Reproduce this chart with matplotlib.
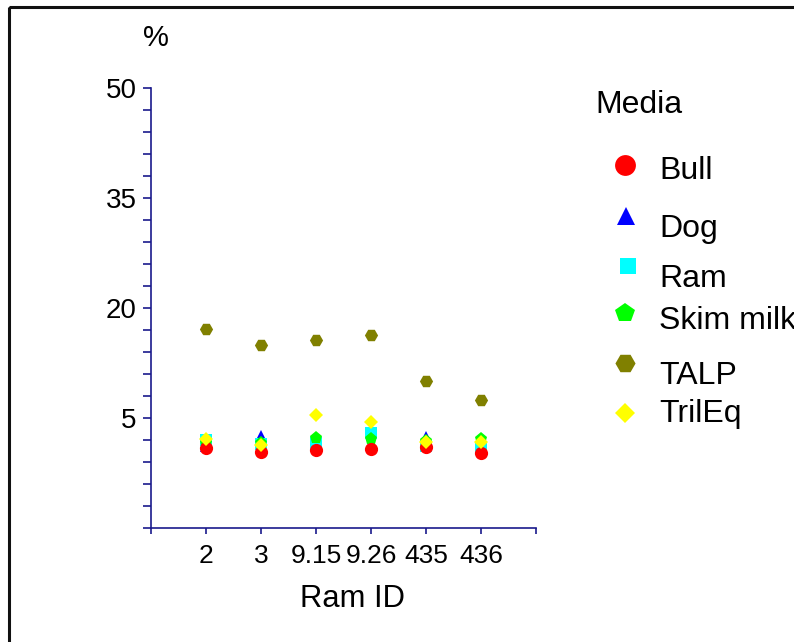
import matplotlib
matplotlib.use('Agg')
import matplotlib.pyplot as plt
from matplotlib.patches import Rectangle
import numpy as np

plt.rcParams['font.family'] = ['Liberation Sans', 'DejaVu Sans']

# Data
ram_ids = ['2', '3', '9.15', '9.26', '435', '436']
media = ['Bull', 'Dog', 'Ram', 'Skim milk', 'TALP', 'TrilEq']
bull = [0.86, 0.4, 0.64, 0.73, 1.0, 0.18]
dog = [1.2, 2.55, 1.6, 1.5, 2.36, 1.3]
ram = [2.0, 1.5, 1.55, 2.9, 1.18, 1.0]
skim_milk = [1.55, 1.63, 2.23, 2.1, 1.8, 2.1]
talp = [17.2, 14.95, 15.7, 16.3, 10.1, 7.45]
trileq = [2.14, 1.32, 5.45, 4.5, 1.77, 1.77]

values = [bull, dog, ram, skim_milk, talp, trileq]
colors = ['#ff0000', '#0000ff', '#00ffff', '#00ff00', '#808000', '#ffff00']
markers = ['o', '^', 's', 'p', 'H', 'D']
plot_ms = [9.5, 9, 9, 9.5, 9.5, 6.8]
legend_ms = [15, 13.5, 11.5, 15, 14.5, 10.2]
zorders = [5, 3, 3, 4, 3, 6]

axis_color = '#1a1a8c'

fig = plt.figure(figsize=(7.94, 6.42), dpi=100)
ax = fig.add_axes([151 / 794, 1 - 528 / 642, 385 / 794, 440 / 642])

x = np.arange(1, len(ram_ids) + 1)
for vals, c, m, ms, z in zip(values, colors, markers, plot_ms, zorders):
    ax.plot(x, vals, linestyle='none', marker=m, color=c, markersize=ms,
            markeredgewidth=0, zorder=z, clip_on=False)

ax.set_xlim(0, len(ram_ids) + 1)
ax.set_ylim(-10, 50)
ax.set_xticks(np.arange(0, len(ram_ids) + 2))
ax.set_xticklabels([''] + ram_ids + [''])
ax.set_yticks([5, 20, 35, 50])
ax.set_yticks(np.arange(-10, 51, 3), minor=True)

for s in ['top', 'right']:
    ax.spines[s].set_visible(False)
for s in ['left', 'bottom']:
    ax.spines[s].set_color(axis_color)
    ax.spines[s].set_linewidth(1.2)

ax.tick_params(axis='both', which='both', direction='out', color=axis_color,
               width=1.2)
ax.tick_params(axis='y', which='major', length=5.5, pad=5, labelsize=20)
ax.tick_params(axis='y', which='minor', length=5.5)
ax.tick_params(axis='x', which='major', length=4.5, pad=7, labelsize=19)

# Axis titles
fig.text(353 / 794, 1 - 607 / 642, 'Ram ID', fontsize=22.3, ha='center', va='baseline')
fig.text(156 / 794, 1 - 38 / 642, '%', fontsize=21, ha='center', va='center')

# Legend drawn in pixel coordinates
leg = fig.add_axes([0, 0, 1, 1], facecolor='none')
leg.set_xlim(0, 794)
leg.set_ylim(642, 0)
leg.axis('off')

leg.text(595, 113, 'Media', fontsize=23, va='baseline')
marker_y = [164.5, 215.5, 265.5, 313, 363, 412.5]
marker_x = [624.5, 626, 628, 625, 625, 625]
label_base = [179, 237, 287, 329, 384, 422]
for name, c, m, ms, mx, my, ly in zip(media, colors, markers, legend_ms,
                                      marker_x, marker_y, label_base):
    leg.plot([mx], [my], linestyle='none', marker=m, color=c, markersize=ms,
             markeredgewidth=0)
    leg.text(659, ly, name, fontsize=23, va='baseline')

# Outer frame
leg.add_patch(Rectangle((9, 7), 900, 700, fill=False, edgecolor='#111111',
                        linewidth=2.2, clip_on=False))

fig.savefig('out.png', dpi=100)
